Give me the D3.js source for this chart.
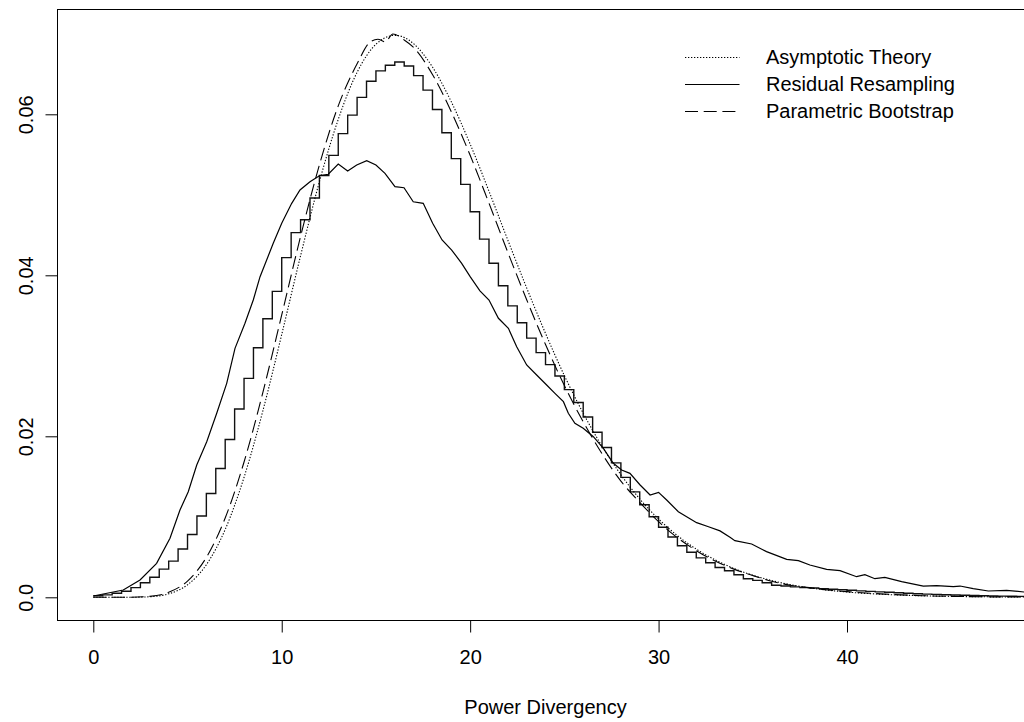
<!DOCTYPE html>
<html>
<head>
<meta charset="utf-8">
<script src="https://cdn.jsdelivr.net/npm/d3@7/dist/d3.min.js"></script>
<style>
  html, body { margin: 0; padding: 0; background: #fff; }
  svg { display: block; }
  text { font-family: "Liberation Sans", Arial, Helvetica, sans-serif; fill: #000; }
</style>
</head>
<body>
<svg id="chart" width="1024" height="722"></svg>
<script>
// ---------------- data ----------------
const xTicks = [0, 10, 20, 30, 40];
const yTicks = [0, 0.02, 0.04, 0.06];
const yTickLabels = ["0.0", "0.02", "0.04", "0.06"];
const xTitle = "Power Divergency";
const seriesNames = ["Asymptotic Theory", "Residual Resampling", "Parametric Bootstrap"];

// Asymptotic Theory (dotted)
const theoryX = [0,1,2,3,4,5,6,7,8,9,10,11,12,13,14,15,15.5,16,16.5,17,18,19,20,21,22,23,24,25,26,27,28,29,30,31,32,33,34,35,36,37,38,39,40,42,44,46,48,50];
const theoryY = [0,0.00000003,0.0000046,0.000071,0.00043,0.00155,0.00405,0.00843,0.0149,0.02317,0.03264,0.04243,0.05163,0.05937,0.06522,0.06871,0.06952,0.06981,0.06955,0.06877,0.06587,0.06155,0.0563,0.05044,0.04437,0.03843,0.03278,0.02754,0.02287,0.01876,0.01523,0.01222,0.00973,0.00766,0.00599,0.00465,0.00358,0.00274,0.00208,0.00157,0.00118,0.00088,0.00065,0.00036,0.00019,0.0001,0.00005,0.00003];

// Parametric Bootstrap (dashed)
const paramX = [0,1,2,3,4,5,6,7,8,9,10,11,12,13,14,14.7,15.1,15.5,15.9,16.5,17,18,19,20,21,22,23,24,25,26,27,28,29,30,31,32,33,34,35,36,37,38,39,40,42,44,46,48,50];
const paramY = [0,0.0000002,0.00001,0.00012,0.00062,0.00202,0.00495,0.00985,0.01681,0.02546,0.03508,0.04482,0.05372,0.06105,0.06627,0.0690,0.06932,0.0690,0.06998,0.06923,0.0683,0.06495,0.06032,0.05491,0.04895,0.04285,0.03697,0.0314,0.0263,0.0218,0.01783,0.01443,0.0118,0.0094,0.0074,0.0058,0.0045,0.0035,0.0027,0.002,0.0015,0.0012,0.0009,0.0007,0.0004,0.0002,0.0001,0.00005,0.00003];

// Residual Resampling (solid)
const residX = [0,1.59,2.48,3.36,4.07,4.6,5.04,5.49,6.02,6.55,7.08,7.52,8.05,8.49,8.85,9.55,10.0,10.53,10.97,11.5,12.0,12.47,13.0,13.5,13.98,14.51,15.0,15.48,16.01,16.49,16.98,17.51,18.01,18.51,19.02,19.55,20.0,20.52,21.0,21.5,22.03,22.47,23.0,23.53,24.06,24.5,24.95,25.21,25.56,26.0,26.54,27.07,27.6,28.04,28.48,29.02,29.55,30.0,30.43,31.05,31.49,32.02,32.65,33.26,33.79,34.05,34.94,35.73,36.8,37.42,38.03,38.92,39.63,40.51,40.95,41.48,42.01,42.9,44.05,44.76,45.64,46.0,46.7,47.5,48.47,49.39,50.2];
const residY = [0.00016,0.0009,0.00215,0.00422,0.00733,0.01084,0.01312,0.01643,0.01933,0.02286,0.02658,0.03093,0.03404,0.03693,0.03983,0.04397,0.04646,0.04894,0.0506,0.05163,0.05237,0.05255,0.05383,0.05296,0.0537,0.05424,0.0537,0.05267,0.05101,0.05088,0.04914,0.04894,0.04646,0.04439,0.04314,0.04149,0.03983,0.03807,0.03693,0.03466,0.03341,0.03113,0.02886,0.02761,0.02637,0.02534,0.0243,0.02286,0.02161,0.02099,0.01995,0.01851,0.01665,0.01581,0.0154,0.01395,0.01271,0.01304,0.01209,0.01063,0.01001,0.00927,0.00877,0.00825,0.00745,0.00704,0.00662,0.00567,0.00472,0.00455,0.00401,0.00348,0.00331,0.00256,0.00281,0.00231,0.00248,0.00194,0.0014,0.00144,0.00132,0.0014,0.00107,0.00078,0.00087,0.00066,0.0006];

// Step histogram (solid steps), bin width 0.5 starting at 0
const stepVals = [0.0002,0.0003,0.0005,0.00075,0.0012,0.0018,0.0025,0.0035,0.0045,0.006,
  0.0078,0.0101,0.0129,0.016,0.0196,0.0234,0.0272,0.031,0.0346,0.038,
  0.0422,0.0453,0.0469,0.0496,0.0524,0.0549,0.0576,0.0599,0.0621,0.0641,
  0.0654,0.0661,0.0665,0.066,0.0648,0.063,0.0606,0.0577,0.0545,0.0513,
  0.0479,0.0445,0.0415,0.0387,0.0362,0.0341,0.0322,0.0304,0.0289,0.0275,
  0.0258,0.0242,0.0224,0.0205,0.0186,0.0167,0.0149,0.0131,0.0115,0.01,
  0.0087,0.0075,0.0064,0.0056,0.0049,0.0043,0.0037,0.0033,0.0028,0.0023,
  0.0021,0.0018,0.0015,0.0014,0.0013,0.0012,0.00115,0.00108,0.001,0.00093,
  0.00087,0.0008,0.00074,0.00068,0.00062,0.00056,0.0005,0.00045,0.0004,0.00036,
  0.00032,0.00028,0.00025,0.00022,0.0002,0.00018,0.00015,0.00013,0.00012,0.0001];
const stepWidth = 0.5;

// ---------------- layout ----------------
const svg = d3.select("#chart");
const x = d3.scaleLinear().domain([0, 40]).range([93.3, 847]);
const y = d3.scaleLinear().domain([0, 0.06]).range([597.3, 114.3]);
const box = { left: 57.5, top: 9.5, right: 1040, bottom: 620.5 };

svg.append("defs").append("clipPath").attr("id", "clip")
  .append("rect").attr("x", box.left).attr("y", box.top)
  .attr("width", box.right - box.left).attr("height", box.bottom - box.top);

const plot = svg.append("g").attr("clip-path", "url(#clip)");

const line = d3.line().x(d => x(d[0])).y(d => y(d[1]));
const stepLine = d3.line().x(d => x(d[0])).y(d => y(d[1])).curve(d3.curveStepAfter);

const stepPts = stepVals.map((v, i) => [i * stepWidth, v]);
stepPts.push([stepVals.length * stepWidth, stepVals[stepVals.length - 1]]);

const styles = {
  theory: { dash: "1.3,1.7", w: 1.1 },
  resid: { dash: null, w: 1.2 },
  param: { dash: "13,5.7", w: 1.1 }
};

plot.append("path").datum(stepPts).attr("d", stepLine)
  .attr("fill", "none").attr("stroke", "#111").attr("stroke-width", 1.4);

plot.append("path").datum(residX.map((v, i) => [v, residY[i]])).attr("d", line)
  .attr("fill", "none").attr("stroke", "#000").attr("stroke-width", styles.resid.w);

plot.append("path").datum(paramX.map((v, i) => [v, paramY[i]]))
  .attr("d", line.curve(d3.curveMonotoneX))
  .attr("fill", "none").attr("stroke", "#000").attr("stroke-width", styles.param.w)
  .attr("stroke-dasharray", styles.param.dash);

plot.append("path").datum(theoryX.map((v, i) => [v, theoryY[i]]))
  .attr("d", line.curve(d3.curveMonotoneX))
  .attr("fill", "none").attr("stroke", "#000").attr("stroke-width", styles.theory.w)
  .attr("stroke-dasharray", styles.theory.dash);

// box
svg.append("rect").attr("x", box.left).attr("y", box.top)
  .attr("width", box.right - box.left).attr("height", box.bottom - box.top)
  .attr("fill", "none").attr("stroke", "#000").attr("stroke-width", 1);

// x axis
const gx = svg.append("g").attr("transform", `translate(0,${box.bottom})`)
  .call(d3.axisBottom(x).tickValues(xTicks).tickSize(12).tickFormat(d3.format("d")));
gx.select(".domain").remove();
gx.selectAll(".tick line").attr("stroke", "#000").attr("stroke-width", 1);
gx.selectAll(".tick text").attr("y", 0).attr("dy", null)
  .attr("transform", "translate(0,43.5)")
  .style("font-size", "20px").style("font-family", "Liberation Sans, Arial, sans-serif");

// y axis
const gy = svg.append("g").attr("transform", `translate(${box.left},0)`)
  .call(d3.axisLeft(y).tickValues(yTicks).tickSize(12).tickFormat((d, i) => yTickLabels[i]));
gy.select(".domain").remove();
gy.selectAll(".tick line").attr("stroke", "#000").attr("stroke-width", 1);
gy.selectAll(".tick text")
  .attr("x", 0).attr("dy", null).attr("y", 0)
  .attr("text-anchor", "middle")
  .attr("transform", `translate(${33 - box.left},0) rotate(-90)`)
  .style("font-size", "20px").style("font-family", "Liberation Sans, Arial, sans-serif");

// x title
svg.append("text").attr("x", 545.5).attr("y", 714).attr("text-anchor", "middle")
  .style("font-size", "20px").text(xTitle);

// legend
const legend = svg.append("g");
const legStyles = [styles.theory, styles.resid, styles.param];
const legY = [57.5, 84.5, 111.5];
seriesNames.forEach((name, i) => {
  const l = legend.append("line").attr("x1", 685).attr("x2", 739.5)
    .attr("y1", legY[i]).attr("y2", legY[i])
    .attr("stroke", "#000").attr("stroke-width", legStyles[i].w);
  if (legStyles[i].dash) l.attr("stroke-dasharray", legStyles[i].dash);
  legend.append("text").attr("x", 766).attr("y", legY[i] + 6.7)
    .style("font-size", "20px").text(name);
});
</script>
</body>
</html>
